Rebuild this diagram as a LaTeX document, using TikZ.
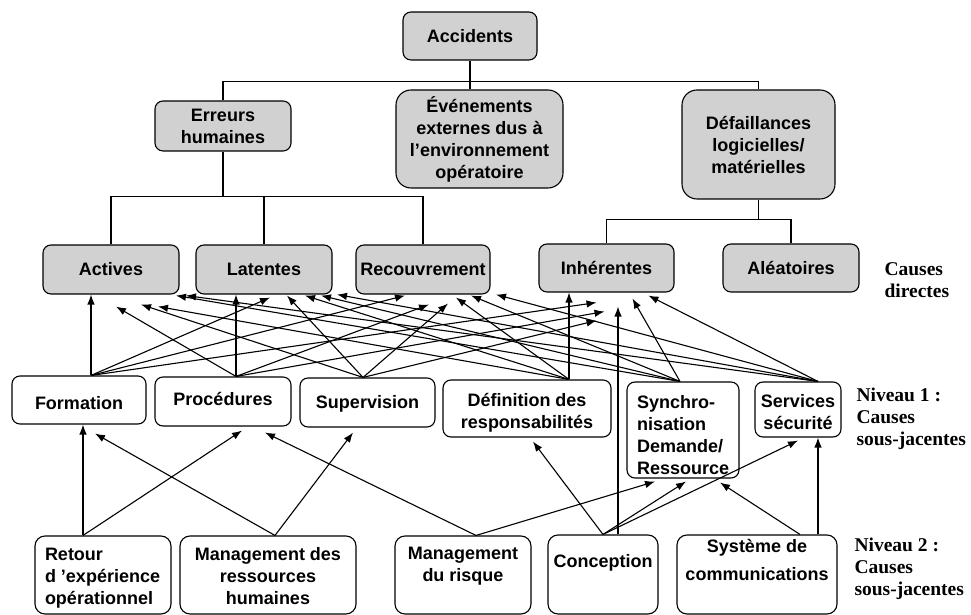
\documentclass[tikz,border=0pt]{standalone}
\usepackage{fontspec}
\setmainfont{Liberation Sans}
\newfontfamily\sidefont{Liberation Serif}
\usetikzlibrary{arrows.meta}

% text block at the top of a box: [alignment]{width}{height}{top gap}{text}
\newcommand{\inbox}[5][\centering]{\parbox[c][#3pt][t]{#2pt}{#1\vspace*{#4pt}\strut #5}}

\tikzset{
  gbox/.style={draw, fill=black!18, rounded corners=8pt, inner sep=0pt, align=center, line width=1.1pt},
  wbox/.style={draw, fill=white, rounded corners=8pt, inner sep=0pt, line width=1.1pt},
  side/.style={anchor=north west, inner sep=0pt, align=left, font=\sidefont\bfseries\fontsize{19.5}{22}\selectfont},
  arr/.style={line width=1.1pt, -{Latex[length=10pt,width=7.5pt]}}
}

\begin{document}
\begin{tikzpicture}[x=1pt, y=1pt, line width=1.1pt, font=\fontsize{18}{22}\selectfont\bfseries]
    \useasboundingbox (0,0) rectangle (971,615);

    % causes directes
    \node[gbox, minimum width=134pt, minimum height=48pt] (acc) at (470,579) {Accidents};
    \node[gbox, minimum width=136pt, minimum height=50pt] (err) at (223,489) {Erreurs\\humaines};
    \node[gbox, rounded corners=15pt, minimum width=167pt, minimum height=98pt] (evt) at (479.5,476) {Événements\\externes dus à\\l’environnement\\opératoire};
    \node[gbox, rounded corners=15pt, minimum width=153pt, minimum height=109pt] (def) at (758.5,470.5) {Défaillances\\logicielles/\\matérielles};
    \node[gbox, minimum width=136pt, minimum height=49pt] (act) at (111,345.5) {Actives};
    \node[gbox, minimum width=136pt, minimum height=49pt] (lat) at (264,345.5) {Latentes};
    \node[gbox, minimum width=134pt, minimum height=49pt] (rec) at (423,345.5) {Recouvrement};
    \node[gbox, minimum width=135pt, minimum height=48pt] (inh) at (606.5,347) {Inhérentes};
    \node[gbox, minimum width=136pt, minimum height=48pt] (ale) at (791,347) {Aléatoires};

    % niveau 1
    \node[wbox] (form) at (79,215) {\inbox{134}{48}{18.5}{Formation}};
    \node[wbox] (proc) at (223,213.5) {\inbox{136}{49}{13.5}{Procédures}};
    \node[wbox] (sup) at (367.5,212.5) {\inbox{135}{49}{15.5}{Supervision}};
    \node[wbox] (resp) at (527,206.5) {\inbox{168}{57}{11.5}{Définition des\\responsabilités}};
    \node[wbox] (sync) at (683,185) {\inbox[\raggedright\leftskip=10pt\relax]{112}{96}{11.5}{Synchro-\\nisation\\Demande/\\Ressource}};
    \node[wbox] (serv) at (798,205.5) {\inbox{86}{55}{10.5}{Services\\sécurité}};

    % niveau 2
    \node[wbox, rounded corners=10pt] (ret) at (103,40) {\inbox[\raggedright\leftskip=10pt\relax]{136}{78}{9.5}{Retour\\d ’expérience\\opérationnel}};
    \node[wbox, rounded corners=10pt] (rh) at (268,40) {\inbox{176}{78}{9.5}{Management des\\ressources\\humaines}};
    \node[wbox, rounded corners=10pt] (risq) at (463,40) {\inbox{136}{78}{8.5}{Management\\du risque}};
    \node[wbox, rounded corners=10pt] (conc) at (603,40.5) {\inbox{110}{79}{17.5}{Conception}};
    \node[wbox, rounded corners=10pt] (comm) at (757,40.5) {\inbox{160}{79}{2.5}{Système de\\[6pt]communications}};

    % side labels
    \node[side] (cd) at (884,353) {Causes\\directes};
    \node[side] (niv1) at (856,228) {Niveau 1 :\\Causes\\sous-jacentes};
    \node[side] (niv2) at (854,78) {Niveau 2 :\\Causes\\sous-jacentes};

    % tree
    \coordinate (j1) at ([yshift=-21pt]acc.south);
    \coordinate (j2) at ([yshift=-45pt]err.south);
    \coordinate (j3) at ([yshift=-20pt]def.south);
    \draw (acc.south) -- (acc.south |- evt.north);
    \draw (err.north) |- (j1) -| (def.north);
    \draw[line width=2pt] (err.south) -- (j2);
    \draw (act.north) |- (j2) -| (rec.north);
    \draw (lat.north) -- (lat.north |- j2);
    \draw (def.south) -- (j3);
    \draw (inh.north) |- (j3) -| (ale.north);

    % ports
    \coordinate (formT) at ([xshift=12pt]form.north);
    \coordinate (procT) at ([xshift=13pt]proc.north);
    \coordinate (supT) at ([xshift=-4.5pt]sup.north);
    \coordinate (respT) at ([xshift=42pt]resp.north);
    \coordinate (syncT) at ([xshift=-3pt]sync.north);
    \coordinate (servT) at ([xshift=20pt]serv.north);
    \coordinate (retT) at ([xshift=-20pt]ret.north);
    \coordinate (rhT) at ([xshift=7pt]rh.north);
    \coordinate (risqT) at ([xshift=13pt]risq.north);
    \coordinate (concT) at (conc.north);
    \coordinate (concV) at ([xshift=15pt]conc.north);
    \coordinate (commT) at ([xshift=43pt]comm.north);
    \coordinate (commV) at ([xshift=61pt]comm.north);

    % niveau 1 -> causes directes
    \draw[arr] (formT) -- (formT |- act.south);
    \draw[arr] (formT) -- ([xshift=6pt,yshift=-3pt]lat.south);
    \draw[arr] (formT) -- ([xshift=-18pt,yshift=-1pt]rec.south);
    \draw[arr] (formT) -- ([xshift=-10pt,yshift=-10pt]inh.south);

    \draw[arr] (procT) -- ([xshift=5pt,yshift=-12pt]act.south);
    \draw[arr] (procT) -- (procT |- lat.south);
    \draw[arr] (procT) -- ([xshift=6pt,yshift=-10pt]rec.south);
    \draw[arr] (procT) -- ([xshift=-2pt,yshift=-19pt]inh.south);

    \draw[arr] (supT) -- ([xshift=30pt,yshift=-10pt]act.south);
    \draw[arr] (supT) -- ([xshift=23pt,yshift=-1pt]lat.south);
    \draw[arr] (supT) -- ([xshift=25pt,yshift=-9pt]rec.south);
    \draw[arr] (supT) -- ([xshift=-10pt,yshift=-28pt]inh.south);

    \draw[arr] (respT) -- ([xshift=47pt,yshift=-12pt]act.south);
    \draw[arr] (respT) -- ([xshift=41pt,yshift=-1pt]lat.south);
    \draw[arr] (respT) -- ([xshift=33pt,yshift=-3pt]rec.south);
    \draw[arr] (respT) -- (respT |- inh.south);

    \draw[arr] (syncT) -- ([xshift=65pt,yshift=-1pt]act.south);
    \draw[arr] (syncT) -- ([xshift=57pt,yshift=-1pt]lat.south);
    \draw[arr] (syncT) -- ([xshift=48pt,yshift=-1pt]rec.south);
    \draw[arr] (syncT) -- ([xshift=26pt,yshift=-6pt]inh.south);

    \draw[arr] (servT) -- ([xshift=75pt,yshift=-1pt]act.south);
    \draw[arr] (servT) -- ([xshift=73pt]lat.south);
    \draw[arr] (servT) -- ([xshift=73pt]rec.south);
    \draw[arr] (servT) -- ([xshift=42pt,yshift=-3pt]inh.south);

    % niveau 2 -> niveau 1
    \draw[arr] (retT) -- (retT |- form.south);
    \draw[arr] (retT) -- ([xshift=19pt,yshift=-4pt]proc.south);
    \draw[arr] (rhT) -- ([xshift=16pt,yshift=-9pt]form.south);
    \draw[arr] (rhT) -- ([xshift=-14.5pt,yshift=-5pt]sup.south);
    \draw[arr] (risqT) -- ([xshift=42pt,yshift=-6pt]proc.south);
    \draw[arr] (risqT) -- ([xshift=-28pt,yshift=-3pt]sync.south);
    \draw[arr] (concT) -- ([xshift=6pt,yshift=-4pt]resp.south);
    \draw[arr] (concT) -- ([xshift=3pt,yshift=-3pt]sync.south);
    \draw[arr] (concT) -- ([yshift=-3pt]serv.south);
    \draw[arr] (concV) -- ([xshift=11.5pt,yshift=-14pt]inh.south);
    \draw[arr] (commT) -- ([xshift=37pt,yshift=-4pt]sync.south);
    \draw[arr] (commV) -- (commV |- serv.south);
\end{tikzpicture}
\end{document}
